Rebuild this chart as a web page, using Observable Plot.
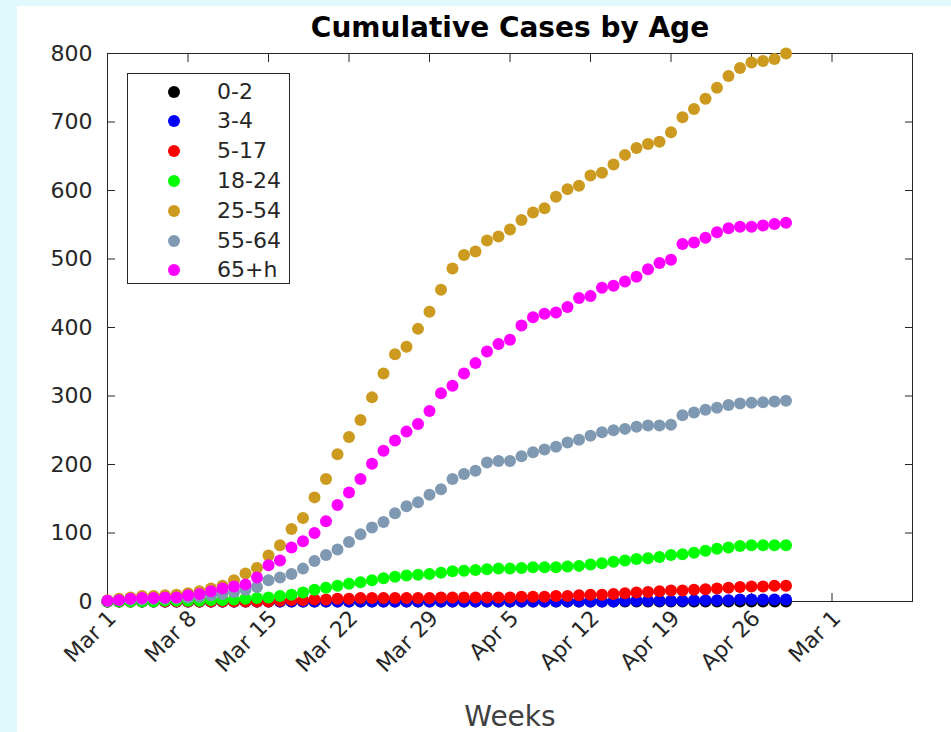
<!DOCTYPE html>
<html><head><meta charset="utf-8">
<script src="https://cdn.jsdelivr.net/npm/d3@7"></script>
<script src="https://cdn.jsdelivr.net/npm/@observablehq/plot@0.6"></script>
<style>
html,body{margin:0;padding:0}
body{background:#dff9fd;width:951px;height:732px;overflow:hidden;position:relative;font-family:"DejaVu Sans",sans-serif}
#panel{position:absolute;left:17px;top:6px;width:934px;height:726px;background:#fff}
#chart{position:absolute;left:0;top:0}
#title{position:absolute;left:210px;width:600px;top:12px;text-align:center;font-weight:bold;font-size:28px;color:#000;line-height:32px}
#xlabel{position:absolute;left:360px;width:300px;top:701px;text-align:center;font-size:28px;color:#404040;line-height:32px}
#legend{position:absolute;left:127px;top:73px;width:161px;height:209px;border:1px solid #262626;background:#fff}
.item{position:absolute;left:0;height:24px;width:160px}
.item svg{position:absolute;left:38px;top:0}
.item span{position:absolute;left:89px;top:-1px;font-size:22px;color:#262626;line-height:26px}
</style>
</head><body>
<div id="panel"></div>
<div id="chart"></div>
<div id="title">Cumulative Cases by Age</div>
<div id="xlabel">Weeks</div>
<div id="legend"></div>
<script>
const ageGroups = ["0-2","3-4","5-17","18-24","25-54","55-64","65+h"];
const groupColors = ["#000000","#0000ff","#ff0000","#00ff00","#cc9a1f","#8099b3","#ff00ff"];
const startDate = new Date(Date.UTC(2020,2,1));
const endDate = new Date(Date.UTC(2020,4,10));
const xTickLabels = ["Mar 1","Mar 8","Mar 15","Mar 22","Mar 29","Apr 5","Apr 12","Apr 19","Apr 26","Mar 1"];
const yTicks = [0,100,200,300,400,500,600,700,800];

const v0_2 = [0,0,0,0,0,0,0,0,0,0, 0,0,0,0,0,0,0,0,0,0, 0,0,0,0,0,0,0,0,0,0, 0,0,0,0,0,0,0,0,0,0, 0,0,0,0,0,0,0,0,0,0, 0,0,0,0,0,0,0,0,0,0];
const v3_4 = [0,0,0,0,0,0,0,0,0,0, 0,0,0,0,0,0,0,0,0,0, 0,0,0,0,0,0,0,0,0,0, 0,0,0,0,0,0,0,0,0,0, 0,0,0,0,0,1,1,1,1,1, 1,2,2,2,2,3,3,3,3,3];
const v5_17 = [0,0,0,0,0,0,0,0,0,0, 0,0,0,0,0,1,2,2,3,3, 4,4,5,5,5,5,5,5,5,6, 6,6,6,6,6,6,7,7,7,8, 8,9,10,10,11,12,13,14,15,16, 16,17,18,19,20,21,22,22,23,23];
const v18_24 = [0,0,0,0,0,1,1,1,1,2, 2,3,4,5,6,8,10,13,17,20, 23,26,28,31,34,36,38,39,40,42, 44,45,46,47,48,48,49,50,50,50, 51,52,54,56,58,60,62,63,65,68, 69,71,74,77,79,81,82,82,82,82];
const v25_54 = [2,4,6,8,8,9,10,12,15,19, 23,31,41,49,67,82,106,122,152,179, 215,240,265,298,333,361,372,398,423,455, 486,506,511,527,533,543,557,568,574,591, 602,607,622,626,638,652,662,668,671,685, 707,719,734,750,767,779,787,789,792,800];
const v55_64 = [1,2,3,3,4,4,5,6,7,9, 11,14,17,21,31,35,40,48,59,68, 76,87,98,108,116,129,139,145,156,164, 179,186,191,203,205,205,212,218,222,226, 232,236,242,247,250,252,255,257,257,258, 272,276,280,283,287,289,290,291,292,293];
const v65h = [1,2,4,5,5,6,6,9,11,15, 19,22,25,35,53,60,79,88,100,117, 141,159,179,201,220,235,248,259,278,304, 315,333,348,365,376,382,403,415,420,422, 430,443,446,458,461,467,474,485,494,499, 522,524,531,539,545,547,547,549,551,553];

const seriesValues = [v0_2, v3_4, v5_17, v18_24, v25_54, v55_64, v65h];
const dayMs = 86400000;
const rows = [];
seriesValues.forEach((vals, gi) => {
  vals.forEach((v, i) => rows.push({date: new Date(+startDate + i*dayMs), value: v, group: ageGroups[gi]}));
});
const tickDates = xTickLabels.map((_, i) => new Date(+startDate + i*7*dayMs));
const labelFor = new Map(tickDates.map((d,i)=>[+d, xTickLabels[i]]));
const axisColor = "#262626";

const chart = Plot.plot({
  width: 951, height: 732,
  marginLeft: 107, marginRight: 39, marginTop: 53, marginBottom: 131,
  style: {background: "transparent", fontFamily: "DejaVu Sans", fontSize: "22px", color: axisColor},
  x: {type: "utc", domain: [startDate, endDate]},
  y: {domain: [0, 800]},
  color: {domain: ageGroups, range: groupColors},
  marks: [
    Plot.frame({stroke: axisColor, strokeWidth: 1}),
    Plot.axisY({ticks: yTicks, tickSize: 0, tickPadding: 15, label: null, tickFormat: d => String(d)}),
    Plot.axisY({ticks: yTicks, tickSize: 8, dx: 8, tickFormat: () => "", label: null, stroke: axisColor}),
    Plot.axisY({anchor: "right", ticks: yTicks, tickSize: 8, dx: -8, tickFormat: () => "", label: null, stroke: axisColor}),
    Plot.axisX({ticks: tickDates, tickSize: 8, dy: -8, tickFormat: () => "", label: null, stroke: axisColor}),
    Plot.axisX({anchor: "top", ticks: tickDates, tickSize: 8, dy: 8, tickFormat: () => "", label: null, stroke: axisColor}),
    Plot.axisX({ticks: tickDates, tickSize: 0, tickPadding: 13, dx: 5, tickRotate: -45, tickFormat: d => labelFor.get(+d), label: null}),
    Plot.dot(rows, {x: "date", y: "value", fill: "group", r: 6, stroke: "none"})
  ]
});
document.getElementById("chart").appendChild(chart);

const legend = document.getElementById("legend");
const rowTops = [6, 35, 65, 95, 125, 155, 184];
ageGroups.forEach((g, i) => {
  const it = document.createElement("div");
  it.className = "item";
  it.style.top = rowTops[i] + "px";
  it.innerHTML = `<svg width="16" height="24"><circle cx="8" cy="12" r="6" fill="${groupColors[i]}"/></svg><span>${g}</span>`;
  legend.appendChild(it);
});
</script>
</body></html>
